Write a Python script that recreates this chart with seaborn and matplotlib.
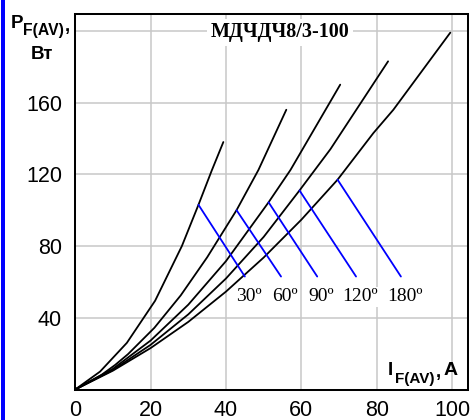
import matplotlib
matplotlib.use("Agg")
import matplotlib.pyplot as plt
import seaborn as sns
import pandas as pd
from matplotlib.patches import Rectangle

# Power loss vs. average forward current for several conduction angles
angles = ["30º", "60º", "90º", "120º", "180º"]

current_30 = [0, 6.6, 13.7, 21.2, 28.3, 32.7, 36.2, 39.3]
power_30 = [0, 10, 26, 49.5, 80, 103, 122, 138]

current_60 = [0, 7, 10.6, 14, 21, 28, 35, 42.8, 48.6, 56]
power_60 = [0, 8.2, 13.7, 19.7, 34.4, 52.5, 73.7, 100, 122.4, 156]

current_90 = [0, 10, 20, 30, 40, 51.3, 57.1, 70.3]
power_90 = [0, 11.5, 27.3, 47.3, 71.6, 104.4, 122.4, 170]

current_120 = [0, 10, 20, 30, 40, 50, 59.5, 67.7, 83]
power_120 = [0, 10.9, 24.9, 41.9, 61.9, 85.1, 111, 134, 183]

current_180 = [0, 10, 20, 30, 40, 50, 60, 69.6, 79.1, 84.4, 99.5]
power_180 = [0, 10.5, 23.1, 37.7, 54.6, 73.6, 94.7, 117, 143, 156, 199]

currents = [current_30, current_60, current_90, current_120, current_180]
powers = [power_30, power_60, power_90, power_120, power_180]

# Callout lines from each curve down to its angle label
callout_start_x = [32.7, 42.8, 51.3, 59.5, 69.6]
callout_start_y = [103, 100, 104.4, 111, 117]
callout_end_x = [45.0, 54.6, 64.2, 74.5, 86.4]
callout_end_y = [63, 63, 63, 63, 63]

x_ticks = [0, 20, 40, 60, 80, 100]
y_ticks = [0, 40, 80, 120, 160, 200]
y_tick_labels = ["", "40", "80", "120", "160", ""]

device_name = "МДЧДЧ8/3-100"

sns.set_theme(style="whitegrid")
plt.rcParams["font.family"] = ["Liberation Sans", "DejaVu Sans"]

W, H = 472, 420
fig = plt.figure(figsize=(W / 100, H / 100), dpi=100)
fig.patch.set_facecolor("white")
ax = fig.add_axes([75.2 / W, 1 - 389.5 / H, (468 - 75.2) / W, (389.5 - 14) / H])
ax.set_facecolor("white")

df = pd.concat(
    [pd.DataFrame({"I": i, "P": p, "angle": a}) for a, i, p in zip(angles, currents, powers)],
    ignore_index=True,
)
sns.lineplot(
    data=df, x="I", y="P", hue="angle", hue_order=angles,
    palette=["black"] * len(angles), estimator=None, sort=False,
    legend=False, linewidth=1.3, ax=ax, zorder=3,
)

for x0, y0, x1, y1, a in zip(callout_start_x, callout_start_y, callout_end_x, callout_end_y, angles):
    ax.plot([x0, x1], [y0, y1], color="#0000ff", linewidth=1.3, zorder=3)
    ax.text(x1 + 1.0, 49.1, a, family="Liberation Serif", fontsize=14, color="black",
            ha="center", va="baseline", zorder=4,
            bbox=dict(facecolor="white", edgecolor="none", pad=1))

ax.text(54.4, 196.4, device_name, family="Liberation Serif", weight="bold", fontsize=14.5,
        color="black", ha="center", va="baseline", zorder=4,
        bbox=dict(facecolor="white", edgecolor="none", pad=2.5))

ax.set_xlim(0, 104.2)
ax.set_ylim(0, 209.4)
ax.set_xticks(x_ticks)
ax.set_yticks(y_ticks)
ax.set_yticklabels(y_tick_labels)
ax.set_xlabel("")
ax.set_ylabel("")
ax.grid(True, color="#c8c8c8", linewidth=1.1)
ax.tick_params(length=0, labelsize=15.5, colors="black")
ax.tick_params(axis="y", pad=9.5)
ax.tick_params(axis="x", pad=7.5)
for s in ax.spines.values():
    s.set_visible(True)
    s.set_color("black")
    s.set_linewidth(1.45)
    s.set_zorder(5)


def px_text(x, y, s, size, **kw):
    fig.text(x / W, 1 - y / H, s, fontsize=size, weight="bold", color="black",
             va="baseline", **kw)


# Y-axis caption: P_F(AV), Вт
px_text(11.0, 28.0, "P", 13.5)
px_text(23.0, 35.0, "F(AV)", 11.3)
px_text(64.5, 30.5, ",", 13.5)
px_text(41.5, 59.0, "Вт", 13.5, ha="center")

# X-axis caption: I_F(AV), A
px_text(388.0, 375.0, "I", 13.5)
px_text(395.0, 383.0, "F(AV)", 11.0)
px_text(435.5, 377.0, ",", 13.5)
px_text(444.0, 375.0, "A", 14.0)

# Blue frame edge on the left
fig.add_artist(Rectangle((1 / W, 0), 4 / W, 1, transform=fig.transFigure,
                         facecolor="#0000ff", edgecolor="none"))

fig.savefig("out.png", dpi=100)
